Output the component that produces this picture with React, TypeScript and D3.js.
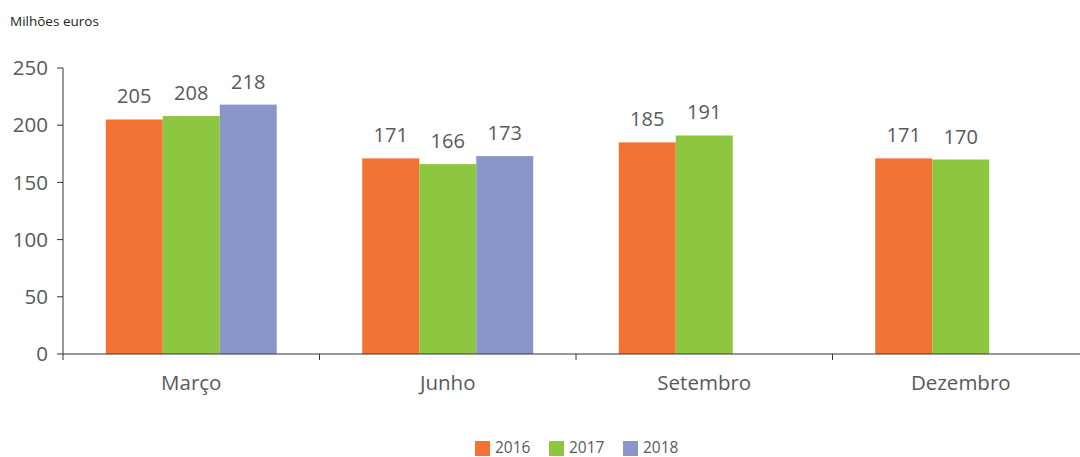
import React from "react";
import * as d3 from "d3";

const categories = ["Março", "Junho", "Setembro", "Dezembro"];
const seriesNames = ["2016", "2017", "2018"];
const values2016 = [205, 171, 185, 171];
const values2017 = [208, 166, 191, 170];
const values2018: (number | null)[] = [218, 173, null, null];
const yTicks = [0, 50, 100, 150, 200, 250];
const colors = ["#F37335", "#8DC641", "#8A96C9"];

export default function App() {
  const W = 1080, H = 457;
  const x0 = 63, y0 = 354, yTop = 68;
  const x = d3.scaleBand<string>().domain(categories).range([x0, x0 + 256.5 * 4]).paddingInner(0).paddingOuter(0);
  const y = d3.scaleLinear().domain([0, 250]).range([y0, yTop]);
  const inner = d3.scaleBand<string>().domain(seriesNames).range([0, x.bandwidth()]).paddingInner(0).paddingOuter(0.75);
  const series = [values2016, values2017, values2018];
  const font = "'Open Sans', 'Noto Sans', sans-serif";
  const txt = "#595959";
  return (
    <svg width={W} height={H} style={{ position: "absolute", left: 0, top: 0, background: "#fff" }} fontFamily={font}>
      <text x={10} y={26} fontSize={13.5} fill="#222">Milhões euros</text>
      {yTicks.map((t) => (
        <g key={t}>
          <line x1={x0 - 6} x2={x0} y1={y(t)} y2={y(t)} stroke="#333" />
          <text x={48} y={y(t)} dy="0.35em" textAnchor="end" fontSize={20.5} fill={txt}>{t}</text>
        </g>
      ))}
      {series.map((vals, si) =>
        vals.map((v, ci) => {
          if (v == null) return null;
          const bx = (x(categories[ci]) as number) + (inner(seriesNames[si]) as number);
          const bw = inner.bandwidth();
          return (
            <g key={si + "-" + ci}>
              <rect x={bx} y={y(v)} width={bw} height={y0 - y(v)} fill={colors[si]} />
              <text x={bx + bw / 2} y={y(v) - 16} textAnchor="middle" fontSize={20} fill={txt}>{v}</text>
            </g>
          );
        })
      )}
      <line x1={x0} x2={W} y1={y0} y2={y0} stroke="#333" />
      <line x1={x0} x2={x0} y1={yTop} y2={y0 + 6} stroke="#333" />
      {categories.map((c, i) => (
        <g key={c}>
          {i > 0 && <line x1={x(c) as number} x2={x(c) as number} y1={y0} y2={y0 + 6} stroke="#333" />}
          <text x={(x(c) as number) + x.bandwidth() / 2} y={390} textAnchor="middle" fontSize={20.5} fill={txt}>{c}</text>
        </g>
      ))}
      {seriesNames.map((s, i) => (
        <g key={s} transform={`translate(${475 + i * 74},441)`}>
          <rect x={0} y={0} width={15} height={15} fill={colors[i]} />
          <text x={20} y={7} dy="0.35em" fontSize={15.5} fill={txt}>{s}</text>
        </g>
      ))}
    </svg>
  );
}
